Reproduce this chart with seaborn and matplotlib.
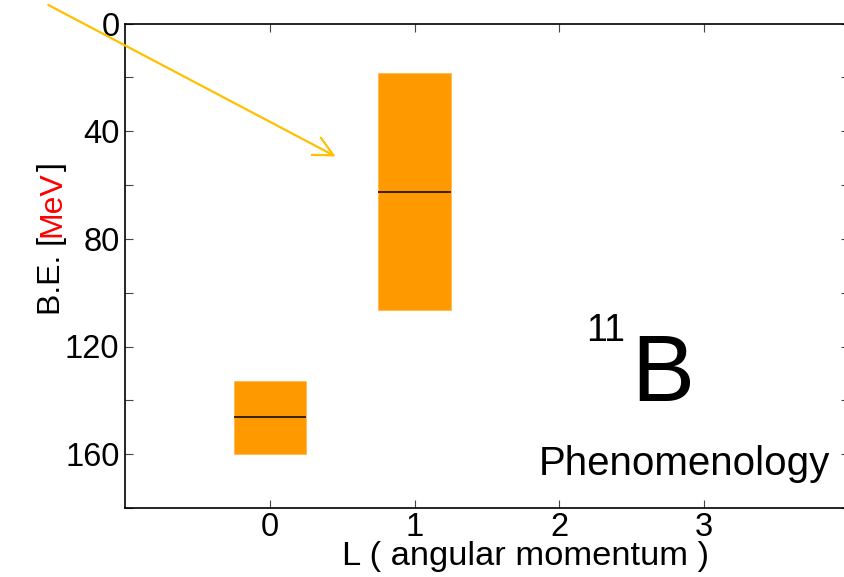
import seaborn as sns
import matplotlib.pyplot as plt
from matplotlib.ticker import MultipleLocator

# level bands for 11B (phenomenology)
L_values = [0, 1]
be_low = [133.0, 18.3]     # top edge of band (smaller binding energy)
be_high = [159.8, 106.4]   # bottom edge of band
be_mid = [146.3, 62.6]     # central line
band_width = 0.5

sns.set_style("ticks")
plt.rcParams['font.family'] = ['Liberation Sans', 'DejaVu Sans']
plt.rcParams['text.color'] = 'black'
plt.rcParams['axes.labelcolor'] = 'black'

fig = plt.figure(figsize=(8.45, 5.77), dpi=100)
ax = fig.add_axes([125/845, 69/577, 724/845, 484.5/577])

heights = [h - l for l, h in zip(be_low, be_high)]
ax.bar(L_values, heights, bottom=be_low, width=band_width, color='#FF9900',
       edgecolor='#FFB84D', linewidth=0.6, zorder=2)
ax.hlines(be_mid, [x - band_width/2 for x in L_values], [x + band_width/2 for x in L_values],
          color='black', linewidth=1.1, zorder=3)

ax.set_xlim(-1, 4)
ax.set_ylim(180, 0)
ax.set_xticks([0, 1, 2, 3])
ax.yaxis.set_major_locator(MultipleLocator(40))
ax.yaxis.set_minor_locator(MultipleLocator(20))
ax.tick_params(axis='both', which='both', direction='in', length=6, width=0.8,
               colors='#444444', labelcolor='black', labelsize=23.5)
ax.tick_params(axis='x', top=True, pad=3)
ax.tick_params(axis='y', which='minor', right=True)
ax.tick_params(axis='y', which='major', right=True, pad=4)
for sp in ax.spines.values():
    sp.set_linewidth(1.2)
    sp.set_color('black')

ax.set_xlabel("L ( angular momentum )", fontsize=24.8)
ax.xaxis.set_label_coords((525.5 - 125) / 724, -0.068)
ax.xaxis.label.set_va('top')

# y label with red unit
fig.canvas.draw()
rend = fig.canvas.get_renderer()
y0 = 1 - 315/577
for piece, col in [("B.E. [", 'black'), ("MeV", 'red'), ("]", 'black')]:
    t = fig.text(52/845, y0, piece, rotation=90, ha='center', va='bottom',
                 fontsize=23, color=col)
    bb = t.get_window_extent(rend)
    y0 += bb.height / fig.bbox.height

fig.text(625/845, 1 - 340.7/577, "11", fontsize=27, ha='right', va='baseline')
fig.text(631/845, 1 - 400.7/577, "B", fontsize=68, ha='left', va='baseline')
fig.text(539/845, 1 - 475/577, "Phenomenology", fontsize=29, ha='left', va='baseline')

ax.annotate('', xy=(0.455, 49.4), xytext=(-1.53, -6.9),
            arrowprops=dict(arrowstyle='->', color='#FFC000', lw=1.6,
                            mutation_scale=35, shrinkA=0, shrinkB=0),
            annotation_clip=False)

fig.savefig("out.png", dpi=100)
